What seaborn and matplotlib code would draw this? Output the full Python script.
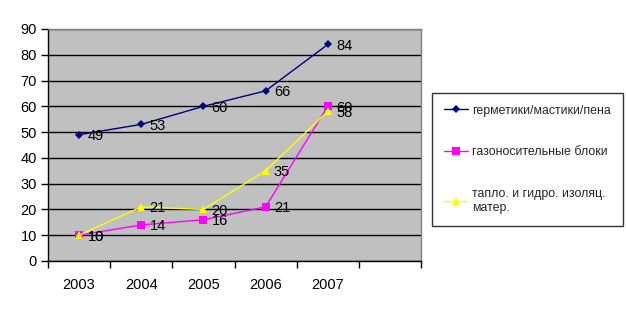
import matplotlib
matplotlib.use("Agg")
import matplotlib.pyplot as plt
import seaborn as sns
import pandas as pd
from matplotlib.ticker import FixedLocator, NullFormatter

years = ["2003", "2004", "2005", "2006", "2007"]
s1_name = "герметики/мастики/пена"
s2_name = "газоносительные блоки"
s3_name = "тапло. и гидро. изоляц.\nматер."
s1 = [49, 53, 60, 66, 84]
s2 = [10, 14, 16, 21, 60]
s3 = [10, 21, 20, 35, 58]

sns.set_theme(style="white")
plt.rcParams['font.family'] = ['Liberation Sans', 'DejaVu Sans']

rows = []
for name, vals in [(s1_name, s1), (s2_name, s2), (s3_name, s3)]:
    for i, v in enumerate(vals):
        rows.append({"idx": i, "value": v, "series": name})
df = pd.DataFrame(rows)

fig = plt.figure(figsize=(6.26, 3.14), dpi=100)
ax = fig.add_axes([48/626, 1-261/314, (421-48)/626, (261-29)/314])
ax.set_facecolor("#C0C0C0")

colors = {s1_name: "#000080", s2_name: "#FF00FF", s3_name: "#FFFF00"}
markers = {s1_name: "D", s2_name: "s", s3_name: "^"}
sizes = {s1_name: 4, s2_name: 6, s3_name: 6}

for name in [s1_name, s2_name, s3_name]:
    sub = df[df.series == name]
    sns.lineplot(data=sub, x="idx", y="value", ax=ax, color=colors[name],
                 marker=markers[name], markersize=sizes[name], markeredgewidth=0,
                 linewidth=1, label=name)

for name, vals in [(s1_name, s1), (s2_name, s2), (s3_name, s3)]:
    for i, v in enumerate(vals):
        ax.annotate(str(v), (i, v), xytext=(6, -1), textcoords="offset points",
                    ha="left", va="center", fontsize=10.5, color="black")

ax.set_xlim(-0.5, 5.5)
ax.set_ylim(0, 90)
ax.set_yticks(range(0, 91, 10))
ax.yaxis.grid(True, color="black", linewidth=1)
ax.set_axisbelow(True)
ax.xaxis.set_major_locator(FixedLocator([x - 0.5 for x in range(7)]))
ax.xaxis.set_major_formatter(NullFormatter())
ax.xaxis.set_minor_locator(FixedLocator(range(len(years))))
ax.set_xticklabels(years, minor=True)
ax.tick_params(axis="x", which="major", length=5, width=1, color="black", direction="out", bottom=True)
ax.tick_params(axis="x", which="minor", length=0, pad=12, labelsize=10.5, labelcolor="black")
ax.tick_params(axis="y", length=5, width=1, color="black", direction="out", left=True, labelsize=10.5, labelcolor="black", pad=3)
ax.set_xlabel("")
ax.set_ylabel("")
for side in ["left", "bottom"]:
    ax.spines[side].set_color("black")
    ax.spines[side].set_linewidth(1)
for side in ["top", "right"]:
    ax.spines[side].set_color("#808080")
    ax.spines[side].set_linewidth(1)

leg = ax.legend(loc="upper left", bbox_to_anchor=(432/626, 1-93/314), bbox_transform=fig.transFigure,
                frameon=True, fancybox=False, edgecolor="black", fontsize=8.9,
                labelspacing=2.4, handlelength=2.0, handletextpad=0.3, borderpad=0.95,
                borderaxespad=0)
leg.get_frame().set_linewidth(1)

fig.savefig("out.png", dpi=100)
